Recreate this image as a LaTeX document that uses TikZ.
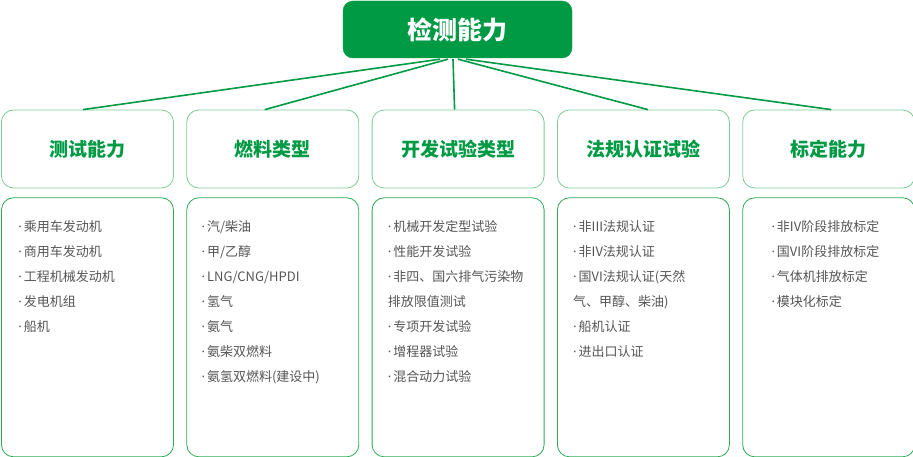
\documentclass[tikz,border=0pt]{standalone}
\usepackage{fontspec}
\setmainfont{Noto Sans CJK SC}
\newfontfamily\dotfont{Noto Sans}
\usetikzlibrary{positioning}
\newcommand{\dt}{{\dotfont ·}\hspace{2pt}}
\definecolor{jcgreen}{RGB}{0,154,68}
\definecolor{headline}{RGB}{125,204,150}
\definecolor{listline}{RGB}{45,170,85}
\definecolor{itemgray}{RGB}{85,85,85}
\tikzset{
  topbox/.style={fill=jcgreen, draw=jcgreen, rounded corners=10pt, minimum width=229pt, minimum height=57pt, text=white, font=\bfseries\fontsize{25}{25}\selectfont},
  headbox/.style={draw=headline, line width=0.8pt, rounded corners=12pt, minimum width=172pt, minimum height=78pt, text=jcgreen, font=\bfseries\fontsize{19}{19}\selectfont},
  listbox/.style={draw=listline, line width=0.8pt, rounded corners=12pt, minimum width=172pt, minimum height=259pt},
  items/.style={anchor=north west, inner sep=0pt, align=left, text=itemgray, font=\fontsize{13}{25}\selectfont},
  branch/.style={draw=jcgreen, line width=1.6pt}
}
\begin{document}
\begin{tikzpicture}[x=1pt,y=-1pt]
\useasboundingbox (0,0) rectangle (913,457);
% top
\node[topbox] (top) at (457.5,29.5) {检测能力};
% headers
\node[headbox] (h1) at (87.5,149) {测试能力};
\node[headbox,right=12.5pt of h1] (h2) {燃料类型};
\node[headbox,right=12.5pt of h2] (h3) {开发试验类型};
\node[headbox,right=12.5pt of h3] (h4) {法规认证试验};
\node[headbox,right=12.5pt of h4] (h5) {标定能力};
% list boxes
\node[listbox,below=9pt of h1] (b1) {};
\node[listbox,below=9pt of h2] (b2) {};
\node[listbox,below=9pt of h3] (b3) {};
\node[listbox,below=9pt of h4] (b4) {};
\node[listbox,below=9pt of h5] (b5) {};
% branches
\draw[branch] ([xshift=-17.5pt,yshift=-1pt]top.south) -- ([xshift=-4.5pt]h1.north);
\draw[branch] ([xshift=-9.5pt,yshift=-1pt]top.south) -- ([xshift=-8pt]h2.north);
\draw[branch] ([xshift=-4.5pt,yshift=-1pt]top.south) -- ([xshift=-3.5pt]h3.north);
\draw[branch] ([xshift=0.5pt,yshift=-1pt]top.south) -- ([xshift=4.5pt]h4.north);
\draw[branch] ([xshift=8.5pt,yshift=-1pt]top.south) -- ([xshift=2.5pt]h5.north);
% items
\node[items] (l1) at ([xshift=17pt,yshift=-23pt]b1.north west) {\dt 乘用车发动机\\\dt 商用车发动机\\\dt 工程机械发动机\\\dt 发电机组\\\dt 船机};
\node[items] (l2) at ([xshift=15pt,yshift=-23pt]b2.north west) {\dt 汽/柴油\\\dt 甲/乙醇\\\dt LNG/CNG/HPDI\\\dt 氢气\\\dt 氨气\\\dt 氨柴双燃料\\\dt 氨氢双燃料(建设中)};
\node[items] (l3) at ([xshift=16pt,yshift=-23pt]b3.north west) {\dt 机械开发定型试验\\\dt 性能开发试验\\\dt 非四、国六排气污染物\\排放限值测试\\\dt 专项开发试验\\\dt 增程器试验\\\dt 混合动力试验};
\node[items] (l4) at ([xshift=16pt,yshift=-23pt]b4.north west) {\dt 非III法规认证\\\dt 非IV法规认证\\\dt 国VI法规认证(天然\\气、甲醇、柴油)\\\dt 船机认证\\\dt 进出口认证};
\node[items] (l5) at ([xshift=29pt,yshift=-23pt]b5.north west) {\dt 非IV阶段排放标定\\\dt 国VI阶段排放标定\\\dt 气体机排放标定\\\dt 模块化标定};
\end{tikzpicture}
\end{document}
